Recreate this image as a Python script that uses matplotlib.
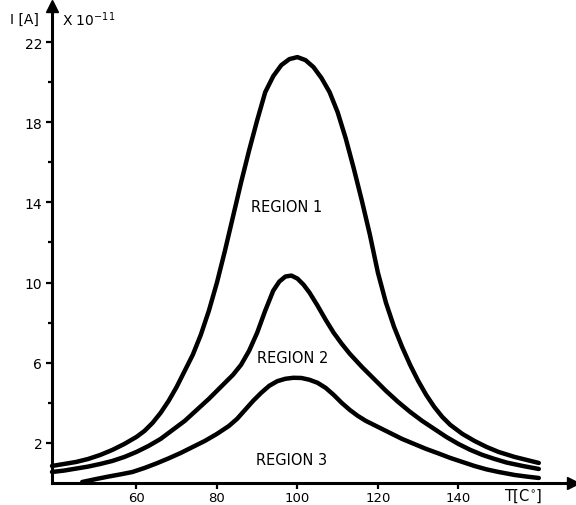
import numpy as np
import matplotlib.pyplot as plt

# current vs temperature, three regions (I in units of 1e-11 A)
t_r1 = [39, 42, 45, 48, 51, 54, 57, 60, 62, 64, 66, 68, 70, 72, 74, 76, 78, 80,
        82, 84, 86, 88, 90, 92, 94, 96, 98, 100, 102, 104, 106, 108, 110, 112,
        114, 116, 118, 120, 122, 124, 126, 128, 130, 132, 134, 136, 138, 141,
        144, 147, 150, 154, 157, 160]
i_r1 = [0.85, 0.95, 1.05, 1.2, 1.4, 1.65, 1.95, 2.3, 2.6, 3.0, 3.5, 4.1, 4.8,
        5.6, 6.4, 7.4, 8.6, 10.0, 11.6, 13.3, 15.0, 16.6, 18.1, 19.5, 20.3,
        20.85, 21.15, 21.25, 21.1, 20.75, 20.2, 19.5, 18.5, 17.2, 15.7, 14.1,
        12.4, 10.5, 9.0, 7.8, 6.8, 5.9, 5.1, 4.4, 3.8, 3.3, 2.9, 2.45, 2.1,
        1.8, 1.55, 1.3, 1.15, 1.0]

t_r2 = [39, 42, 45, 48, 51, 54, 57, 60, 63, 66, 69, 72, 75, 78, 81, 84, 86, 88,
        90, 92, 94, 95.5, 97, 98.5, 100, 101.5, 103, 105, 107, 109, 111, 113,
        116, 119, 122, 125, 128, 131, 134, 137, 140, 143, 146, 149, 152, 156, 160]
i_r2 = [0.55, 0.62, 0.72, 0.82, 0.95, 1.1, 1.3, 1.55, 1.85, 2.2, 2.65, 3.1,
        3.65, 4.2, 4.8, 5.4, 5.9, 6.6, 7.5, 8.6, 9.6, 10.05, 10.3, 10.35, 10.2,
        9.9, 9.5, 8.85, 8.15, 7.5, 6.95, 6.45, 5.8, 5.2, 4.6, 4.05, 3.55, 3.1,
        2.7, 2.3, 1.95, 1.65, 1.4, 1.2, 1.02, 0.85, 0.7]

t_r3 = [46.5, 50, 53, 56, 59, 62, 65, 68, 71, 74, 77, 80, 83, 85, 87, 89, 91,
        93, 95, 97, 99, 101, 103, 105, 107, 109, 111, 113, 115, 117, 120, 123,
        126, 129, 132, 135, 138, 141, 144, 147, 150, 154, 157, 160]
i_r3 = [0.05, 0.2, 0.32, 0.43, 0.55, 0.75, 0.98, 1.23, 1.5, 1.8, 2.1, 2.45,
        2.85, 3.2, 3.65, 4.1, 4.5, 4.85, 5.08, 5.2, 5.25, 5.24, 5.15, 5.0, 4.75,
        4.4, 4.0, 3.65, 3.35, 3.1, 2.8, 2.5, 2.2, 1.95, 1.7, 1.48, 1.25, 1.05,
        0.85, 0.68, 0.55, 0.4, 0.32, 0.25]

region_names = ["REGION 1", "REGION 2", "REGION 3"]
label_pos = [(97.3, 13.8), (98.8, 6.25), (98.5, 1.15)]

x_ticks = [60, 80, 100, 120, 140]
y_ticks = [2, 6, 10, 14, 18, 22]
y_minor = [4, 8, 12, 16, 20]

plt.rcParams['font.family'] = ['DejaVu Sans']

fig = plt.figure(figsize=(5.76, 5.06), dpi=100)
W, H = 576, 506
ax = fig.add_axes([52 / W, 22 / H, (573 - 52) / W, (484 - 7) / H])
ax.set_xlim(39, 168.5)
ax.set_ylim(0, 23.8)

for t, i in [(t_r1, i_r1), (t_r2, i_r2), (t_r3, i_r3)]:
    ax.plot(t, i, color='black', lw=3.2, solid_joinstyle='round',
            solid_capstyle='round', clip_on=False)

for name, (tx, ty) in zip(region_names, label_pos):
    ax.text(tx, ty, name, ha='center', va='center', fontsize=10.5)

# axes drawn as arrows
for s in ['top', 'right']:
    ax.spines[s].set_visible(False)
for s in ['left', 'bottom']:
    ax.spines[s].set_linewidth(2.2)
ax.plot(1, 0, '>k', ms=9, transform=ax.transAxes, clip_on=False)
ax.plot(0, 1, '^k', ms=9, transform=ax.transAxes, clip_on=False)

ax.set_xticks(x_ticks)
ax.set_xticklabels([str(v) for v in x_ticks])
ax.set_yticks(y_ticks)
ax.set_yticklabels([str(v) for v in y_ticks])
ax.set_yticks(y_minor, minor=True)
ax.tick_params(axis='both', which='both', width=1.6, labelsize=10)
ax.tick_params(axis='x', length=4, pad=1.5, labelsize=9.5)
ax.tick_params(axis='y', which='major', length=4, pad=3)
ax.tick_params(axis='y', which='minor', length=3)

ax.text(156, -0.6, "T[C$^{\\circ}$]", ha='center', va='center', fontsize=10.5)
fig.text(10 / W, 1 - 20 / H, "I [A]", ha='left', va='center', fontsize=10)
fig.text(62 / W, 1 - 20 / H, "X $10^{-11}$", ha='left', va='center', fontsize=10)

fig.savefig("out.png", dpi=100)
